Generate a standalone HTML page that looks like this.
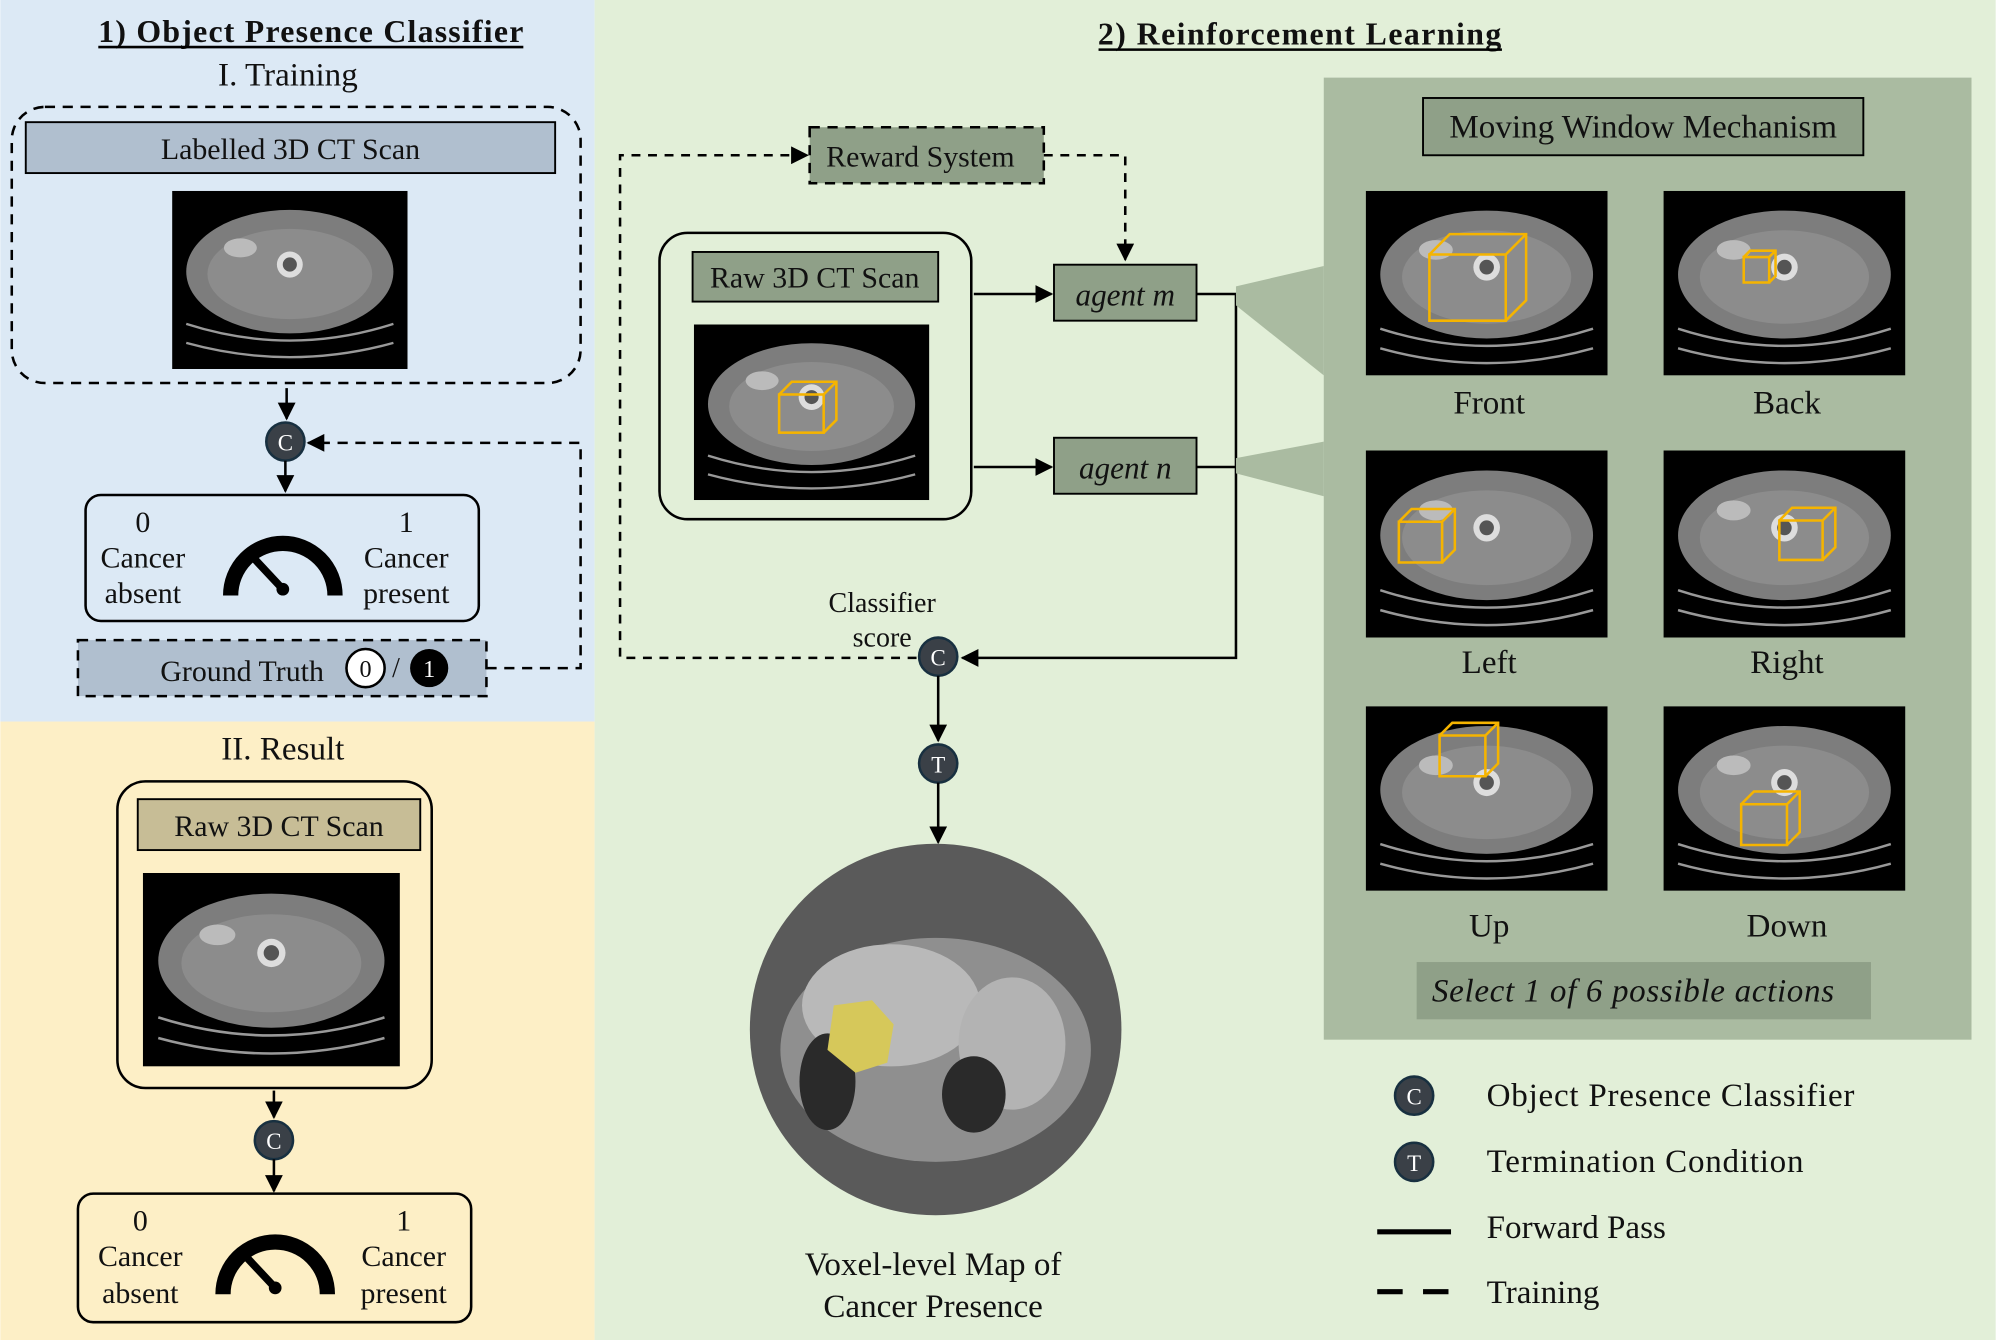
<!DOCTYPE html>
<html><head><meta charset="utf-8"><style>html,body{margin:0;padding:0;background:#fff}svg{display:block}text{font-family:"Liberation Serif",serif;fill:#111}</style></head>
<body>
<svg width="1996" height="1340" viewBox="0 0 1568 1053" xmlns="http://www.w3.org/2000/svg">
<defs>
<symbol id="ct" viewBox="0 0 200 150" preserveAspectRatio="none">
<rect x="0" y="0" width="200" height="150" fill="#000"/>
<ellipse cx="100" cy="68" rx="88" ry="52" fill="#7d7d7d"/>
<ellipse cx="100" cy="70" rx="70" ry="38" fill="#8c8c8c"/>
<circle cx="100" cy="62" r="11" fill="#ddd"/><circle cx="100" cy="62" r="6" fill="#555"/>
<ellipse cx="58" cy="48" rx="14" ry="8" fill="#bbb"/>
<path d="M12 112 Q100 140 188 112" stroke="#999" stroke-width="2" fill="none"/>
<path d="M12 128 Q100 152 188 128" stroke="#999" stroke-width="2" fill="none"/>
</symbol>
<marker id="ar" viewBox="0 0 10 10" refX="9" refY="5" markerWidth="7" markerHeight="7" orient="auto"><path d="M0 0L10 5L0 10z" fill="#000"/></marker>
</defs>
<rect x="0" y="0" width="467" height="567" fill="#dce9f5"/>
<rect x="0" y="567" width="467" height="486" fill="#fdefc6"/>
<rect x="467" y="0" width="1101" height="1053" fill="#e2efd8"/>
<rect x="1040" y="61" width="509" height="756" fill="#aabba1"/>
<g font-size="26">
<text x="244" y="33" font-size="25" font-weight="bold" text-anchor="middle" textLength="334">1) Object Presence Classifier</text>
<line x1="77" y1="37" x2="411" y2="37" stroke="#000" stroke-width="2"/>
<text x="226" y="67" text-anchor="middle">I. Training</text>
<text x="1021" y="35" font-size="25" font-weight="bold" text-anchor="middle" textLength="317">2) Reinforcement Learning</text>
<line x1="863" y1="39" x2="1180" y2="39" stroke="#000" stroke-width="2"/>
</g>
<!-- training -->
<rect x="9" y="84" width="447" height="217" rx="26" fill="none" stroke="#000" stroke-width="2" stroke-dasharray="8,6"/>
<rect x="20" y="96" width="416" height="40" fill="#b0bfcf" stroke="#000" stroke-width="1.5"/>
<text x="228" y="125" font-size="23.5" text-anchor="middle">Labelled 3D CT Scan</text>
<use href="#ct" x="135" y="150" width="185" height="140"/>
<line x1="225" y1="305" x2="225" y2="329" stroke="#000" stroke-width="2" marker-end="url(#ar)"/>
<circle cx="224" cy="347" r="15" fill="#3a4047" stroke="#183040" stroke-width="2"/><text x="224" y="354" font-size="18" style="fill:#fff" text-anchor="middle">C</text>
<line x1="224" y1="362" x2="224" y2="386" stroke="#000" stroke-width="2" marker-end="url(#ar)"/>
<path d="M382 525 L456 525 L456 348 L242 348" fill="none" stroke="#000" stroke-width="2" stroke-dasharray="8,6" marker-end="url(#ar)"/>
<rect x="67" y="389" width="309" height="99" rx="12" fill="none" stroke="#000" stroke-width="2"/>
<g font-size="23.5" text-anchor="middle">
<text x="112" y="418">0</text><text x="112" y="446">Cancer</text><text x="112" y="474">absent</text>
<text x="319" y="418">1</text><text x="319" y="446">Cancer</text><text x="319" y="474">present</text>
</g>
<g id="gauge"><path d="M181 468 A41 41 0 1 1 263 468" fill="none" stroke="#000" stroke-width="12"/><line x1="222" y1="463" x2="193" y2="432" stroke="#000" stroke-width="6"/><circle cx="222" cy="463" r="5" fill="#000"/></g>
<rect x="61" y="503" width="321" height="44" fill="#b0bfcf" stroke="#000" stroke-width="2" stroke-dasharray="8,6"/>
<text x="190" y="535" font-size="23.5" text-anchor="middle">Ground Truth</text>
<circle cx="287" cy="525" r="15" fill="#fff" stroke="#000" stroke-width="2"/><text x="287" y="532" font-size="19" text-anchor="middle">0</text>
<text x="311" y="532" font-size="22" text-anchor="middle">/</text>
<circle cx="337" cy="525" r="15" fill="#000"/><text x="337" y="532" font-size="19" style="fill:#fff" text-anchor="middle">1</text>
<!-- result -->
<text x="222" y="597" font-size="26" text-anchor="middle">II. Result</text>
<rect x="92" y="614" width="247" height="241" rx="22" fill="none" stroke="#000" stroke-width="2"/>
<rect x="108" y="628" width="222" height="40" fill="#c7bd96" stroke="#000" stroke-width="1.5"/>
<text x="219" y="657" font-size="23.5" text-anchor="middle">Raw 3D CT Scan</text>
<use href="#ct" x="112" y="686" width="202" height="152"/>
<line x1="215" y1="857" x2="215" y2="878" stroke="#000" stroke-width="2" marker-end="url(#ar)"/>
<circle cx="215" cy="896" r="15" fill="#3a4047" stroke="#183040" stroke-width="2"/><text x="215" y="903" font-size="18" style="fill:#fff" text-anchor="middle">C</text>
<line x1="215" y1="911" x2="215" y2="936" stroke="#000" stroke-width="2" marker-end="url(#ar)"/>
<rect x="61" y="938" width="309" height="101" rx="12" fill="none" stroke="#000" stroke-width="2"/>
<g font-size="23.5" text-anchor="middle">
<text x="110" y="967">0</text><text x="110" y="995">Cancer</text><text x="110" y="1024">absent</text>
<text x="317" y="967">1</text><text x="317" y="995">Cancer</text><text x="317" y="1024">present</text>
</g>
<use href="#gauge" x="-6" y="549"/>
<!-- RL -->
<rect x="636" y="100" width="184" height="44" fill="#8fa088" stroke="#000" stroke-width="2" stroke-dasharray="8,6"/>
<text x="723" y="131" font-size="23.5" text-anchor="middle">Reward System</text>
<path d="M820 122 L884 122 L884 204" fill="none" stroke="#000" stroke-width="2" stroke-dasharray="7,6" marker-end="url(#ar)"/>
<path d="M720 517 L487 517 L487 122 L634 122" fill="none" stroke="#000" stroke-width="2" stroke-dasharray="7,6" marker-end="url(#ar)"/>
<rect x="518" y="183" width="245" height="225" rx="22" fill="none" stroke="#000" stroke-width="2"/>
<rect x="544" y="198" width="193" height="39" fill="#8fa088" stroke="#000" stroke-width="1.5"/>
<text x="640" y="226" font-size="23.5" text-anchor="middle">Raw 3D CT Scan</text>
<use href="#ct" x="545" y="255" width="185" height="138"/>
<rect x="612" y="310" width="35" height="30" fill="none" stroke="#f5b400" stroke-width="2"/><path d="M612 310 L622 300 L657 300 L657 330 L647 340 M647 310 L657 300" fill="none" stroke="#f5b400" stroke-width="2"/>
<line x1="765" y1="231" x2="826" y2="231" stroke="#000" stroke-width="2" marker-end="url(#ar)"/>
<line x1="765" y1="367" x2="826" y2="367" stroke="#000" stroke-width="2" marker-end="url(#ar)"/>
<rect x="828" y="208" width="112" height="44" fill="#8fa088" stroke="#000" stroke-width="1.5"/>
<text x="884" y="240" font-size="24.5" font-style="italic" text-anchor="middle">agent m</text>
<rect x="828" y="344" width="112" height="44" fill="#8fa088" stroke="#000" stroke-width="1.5"/>
<text x="884" y="376" font-size="24.5" font-style="italic" text-anchor="middle">agent n</text>
<path d="M940 231 L971 231 L971 517 L756 517" fill="none" stroke="#000" stroke-width="2" marker-end="url(#ar)"/>
<path d="M940 367 L971 367" fill="none" stroke="#000" stroke-width="2"/>
<polygon points="971,225 1040,209 1040,295 971,240" fill="#aabba1"/>
<polygon points="971,360 1040,347 1040,390 971,372" fill="#aabba1"/>
<text x="693" y="481" font-size="22" text-anchor="middle">Classifier</text><text x="693" y="508" font-size="22" text-anchor="middle">score</text>
<circle cx="737" cy="516" r="15" fill="#3a4047" stroke="#183040" stroke-width="2"/><text x="737" y="523" font-size="18" style="fill:#fff" text-anchor="middle">C</text>
<line x1="737" y1="531" x2="737" y2="582" stroke="#000" stroke-width="2" marker-end="url(#ar)"/>
<circle cx="737" cy="600" r="15" fill="#3a4047" stroke="#183040" stroke-width="2"/><text x="737" y="607" font-size="18" style="fill:#fff" text-anchor="middle">T</text>
<line x1="737" y1="615" x2="737" y2="662" stroke="#000" stroke-width="2" marker-end="url(#ar)"/>
<circle cx="735" cy="809" r="146" fill="#5a5a5a"/>
<ellipse cx="735" cy="825" rx="122" ry="88" fill="#8f8f8f"/>
<ellipse cx="700" cy="790" rx="70" ry="48" fill="#b9b9b9"/>
<ellipse cx="795" cy="820" rx="42" ry="52" fill="#b3b3b3"/>
<ellipse cx="650" cy="850" rx="22" ry="38" fill="#2a2a2a"/><ellipse cx="765" cy="860" rx="25" ry="30" fill="#2a2a2a"/>
<path d="M655 790 L685 786 L702 805 L697 835 L672 843 L650 825 Z" fill="#d6c85a"/>
<text x="733" y="1002" font-size="26" text-anchor="middle">Voxel-level Map of</text>
<text x="733" y="1035" font-size="26" text-anchor="middle">Cancer Presence</text>
<!-- moving window -->
<rect x="1118" y="77" width="346" height="45" fill="#8fa088" stroke="#000" stroke-width="1.5"/>
<text x="1291" y="108" font-size="26" text-anchor="middle">Moving Window Mechanism</text>
<use href="#ct" x="1073" y="150" width="190" height="145"/>
<use href="#ct" x="1307" y="150" width="190" height="145"/>
<use href="#ct" x="1073" y="354" width="190" height="147"/>
<use href="#ct" x="1307" y="354" width="190" height="147"/>
<use href="#ct" x="1073" y="555" width="190" height="145"/>
<use href="#ct" x="1307" y="555" width="190" height="145"/>
<g fill="none" stroke="#f5b400" stroke-width="2">
<path d="M1123 200 h60 v52 h-60z M1123 200 l16-16 h60 v52 l-16 16 M1183 200 l16-16"/>
<path d="M1370 202 h20 v20 h-20z M1370 202 l5-5 h20 v20 l-5 5 M1390 202 l5-5"/>
<path d="M1099 410 h34 v32 h-34z M1099 410 l10-10 h34 v32 l-10 10 M1133 410 l10-10"/>
<path d="M1398 409 h34 v31 h-34z M1398 409 l10-10 h34 v31 l-10 10 M1432 409 l10-10"/>
<path d="M1131 578 h36 v32 h-36z M1131 578 l10-10 h36 v32 l-10 10 M1167 578 l10-10"/>
<path d="M1368 632 h36 v32 h-36z M1368 632 l10-10 h36 v32 l-10 10 M1404 632 l10-10"/>
</g>
<g font-size="26" text-anchor="middle">
<text x="1170" y="325">Front</text>
<text x="1404" y="325">Back</text>
<text x="1170" y="529">Left</text>
<text x="1404" y="529">Right</text>
<text x="1170" y="736">Up</text>
<text x="1404" y="736">Down</text>
</g>
<rect x="1113" y="756" width="357" height="45" fill="#8fa088"/>
<text x="1283" y="787" font-size="26" font-style="italic" text-anchor="middle" textLength="316">Select 1 of 6 possible actions</text>
<!-- legend -->
<circle cx="1111" cy="861" r="15" fill="#3a4047" stroke="#183040" stroke-width="2"/><text x="1111" y="868" font-size="18" style="fill:#fff" text-anchor="middle">C</text>
<text x="1168" y="869" font-size="26" textLength="289">Object Presence Classifier</text>
<circle cx="1111" cy="913" r="15" fill="#3a4047" stroke="#183040" stroke-width="2"/><text x="1111" y="920" font-size="18" style="fill:#fff" text-anchor="middle">T</text>
<text x="1168" y="921" font-size="26" textLength="249">Termination Condition</text>
<line x1="1082" y1="968" x2="1140" y2="968" stroke="#000" stroke-width="4"/>
<text x="1168" y="973" font-size="26">Forward Pass</text>
<line x1="1082" y1="1015" x2="1140" y2="1015" stroke="#000" stroke-width="4" stroke-dasharray="20,16"/>
<text x="1168" y="1024" font-size="26">Training</text>
</svg>
</body></html>
